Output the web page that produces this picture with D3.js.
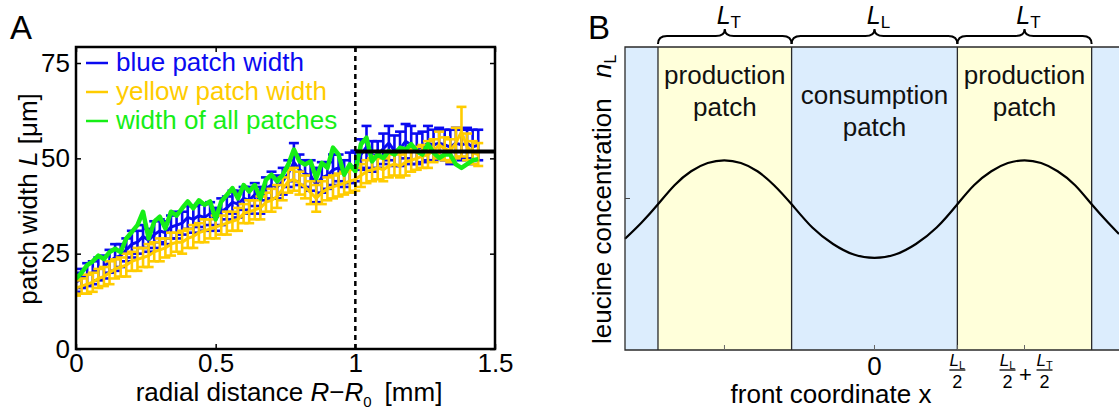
<!DOCTYPE html>
<html>
<head>
<meta charset="utf-8">
<script src="https://cdn.jsdelivr.net/npm/d3@7"></script>
<style>
  body { margin: 0; background: #fff; }
  svg { display: block; font-family: "Liberation Sans", Arial, Helvetica, sans-serif; }
</style>
</head>
<body>
<svg id="chart" width="1119" height="414"></svg>
<script>
// ---- panel A data (step 0.02 mm) ----
const radialDistance = d3.range(73).map((i) => i * 0.02);
const bluePatch = [17.5,18.5,19.5,20,21,21.5,23,24,24.5,26,27.5,28,29.5,28.5,30,31,30.5,32,32.5,33,34.5,34,35,34.5,35.5,34,36,37,38.5,38,39.5,39,40.5,39,42,43,42.5,44,46,49,47,46,45.5,43,45,45.5,47,47.5,46,47.5,48,51,53,50.5,51,52.5,54,52,52.5,54.5,53.5,52.5,53,54,53.5,54,53.5,53,54,53.5,54,53,53.5];
const blueErr = [2.5,2.5,3,3,3,3,3,3.5,3,3,3.5,3,3,3,3.5,3,3,3,3.5,3,3,3.5,3,3.5,3,3,3.5,3,3,3.5,3,3.5,3,3.5,3,3.5,3,3.5,3.5,5,4,3.5,4,4.5,4,3.5,4,3.5,3.5,4,4,4,5.5,4,3.5,4,4.5,4,4.5,4.5,5,4,4,4.5,4,4,4,4.5,4,4,4,4.5,4];
const yellowPatch = [16,16.5,17,17.5,18.5,19,20,21,21.5,22,23,23.5,24,24.5,25.5,26,26.5,27.5,28,28,29,29.5,30.5,31,31.5,32,32.5,33,33.5,34,35.5,36,36.5,37,38.5,39,40,42,44,44.5,43.5,42.5,41,39.5,41,42,42.5,43,43.5,44,44.5,45.5,46.5,47,47.5,47,48,48.5,48,49,49.5,50,50.5,51,52,53.5,52.5,52,54,57,53,51.5,51];
const yellowErr = [2,2,2.5,2.5,2.5,2.5,3,2.5,2.5,3,2.5,3,2.5,3,2.5,3,2.5,3,2.5,3,2.5,3,2.5,3,2.5,3,2.5,3,2.5,3,2.5,3,2.5,3,2.5,3,3,3,3,3,3,3,3,3.5,3,3,3,3,3,3,3,3,3,3,3,3,3,3,3,3.5,3,3,3,3.5,3,3.5,3,3,4,6.5,3.5,3,3];
const allPatches = [18.4,20,22,23,24.5,23.6,25.4,26.3,25.4,29,30.7,32.5,36,29,33.4,34.7,31.6,36,35,36.9,38.7,36.9,39,37.8,38.7,34,38.7,40.4,42.2,39.5,43,41.3,43,39.5,44.4,45.7,44,45.7,48.4,52.3,49.2,48.4,49.2,44.8,48.8,47.5,52.8,51,45.7,48.4,46.6,53.7,55.4,49.2,51,50.1,51.9,51,52.8,52.3,53.7,51.9,51,53.7,51.5,50.1,51,51,48.4,47.5,48.5,49.5,49.8];
const plateauWidth = 51.8;
const plateauStart = 1.0;
const xTicksA = [0, 0.5, 1, 1.5];
const yTicksA = [0, 25, 50, 75];
const legendA = [
  { label: "blue patch width", color: "#0a0af0" },
  { label: "yellow patch width", color: "#ffcc00" },
  { label: "width of all patches", color: "#16ee16" },
];

// ---- panel B data ----
const patchBounds = [-1.505, -1.306, -0.5, 0.5, 1.31, 1.6];
const patchKinds = ["consumption", "production", "consumption", "production", "consumption"];
const braces = [
  { from: -1.306, to: -0.5, sub: "T" },
  { from: -0.5, to: 0.5, sub: "L" },
  { from: 0.5, to: 1.31, sub: "T" },
];
const curveX = [-1.505,-1.406,-1.306,-1.206,-1.106,-1.006,-0.906,-0.806,-0.706,-0.606,-0.5,-0.375,-0.25,-0.125,0,0.125,0.25,0.375,0.5,0.6,0.705,0.805,0.905,1.005,1.105,1.21,1.31,1.41,1.475];
const curveY = [0.367,0.42,0.481,0.544,0.59,0.617,0.626,0.617,0.59,0.544,0.481,0.404,0.35,0.315,0.304,0.315,0.35,0.404,0.481,0.544,0.59,0.617,0.626,0.617,0.59,0.544,0.481,0.42,0.383];
const xTicksB = [-0.905, 0, 0.5, 0.905];

const svg = d3.select("#chart");

// =================== panel A ===================
const A = { left: 76, right: 495, top: 47, bottom: 349 };
const xA = d3.scaleLinear([0, 1.5], [A.left, A.right]);
const yA = d3.scaleLinear([0, 79.2], [A.bottom, A.top]);

const gA = svg.append("g");
gA.append("clipPath").attr("id", "clipA")
  .append("rect").attr("x", A.left).attr("y", A.top)
  .attr("width", A.right - A.left).attr("height", A.bottom - A.top);

const plotA = gA.append("g").attr("clip-path", "url(#clipA)");

function errorSeries(values, errs, color) {
  const g = plotA.append("g").attr("stroke", color).attr("stroke-width", 2.6).attr("fill", "none");
  const pts = values.map((v, i) => ({ x: radialDistance[i], v, e: errs[i] }));
  g.append("path")
    .attr("stroke-width", 3)
    .attr("d", d3.line((d) => xA(d.x), (d) => yA(d.v))(pts));
  const bar = g.selectAll("g.bar").data(pts).join("g").attr("class", "bar");
  bar.append("line")
    .attr("x1", (d) => xA(d.x)).attr("x2", (d) => xA(d.x))
    .attr("y1", (d) => yA(d.v - d.e)).attr("y2", (d) => yA(d.v + d.e));
  [-1, 1].forEach((s) => {
    bar.append("line")
      .attr("x1", (d) => xA(d.x) - 5).attr("x2", (d) => xA(d.x) + 5)
      .attr("y1", (d) => yA(d.v + s * d.e)).attr("y2", (d) => yA(d.v + s * d.e));
  });
}

errorSeries(bluePatch, blueErr, legendA[0].color);
errorSeries(yellowPatch, yellowErr, legendA[1].color);

plotA.append("path")
  .attr("fill", "none")
  .attr("stroke", legendA[2].color)
  .attr("stroke-width", 4.5)
  .attr("stroke-linejoin", "round")
  .attr("d", d3.line((d, i) => xA(radialDistance[i]), (d) => yA(d))(allPatches));

// dashed marker and plateau line
gA.append("line")
  .attr("x1", xA(plateauStart)).attr("x2", xA(plateauStart))
  .attr("y1", A.top).attr("y2", A.bottom)
  .attr("stroke", "#000").attr("stroke-width", 2.5).attr("stroke-dasharray", "5,4");
gA.append("line")
  .attr("x1", xA(plateauStart)).attr("x2", A.right)
  .attr("y1", yA(plateauWidth)).attr("y2", yA(plateauWidth))
  .attr("stroke", "#000").attr("stroke-width", 4);

// axes
const axisFont = (g) => g.attr("font-size", 26).attr("font-family", null)
  .call((g) => g.select(".domain").remove())
  .call((g) => g.selectAll(".tick line").attr("stroke", "#000").attr("stroke-width", 1.5))
  .call((g) => g.selectAll(".tick text").attr("fill", "#000"));

gA.append("g").attr("transform", `translate(0,${A.bottom})`)
  .call(d3.axisBottom(xA).tickValues(xTicksA).tickFormat(d3.format("")).tickSizeInner(-5).tickSizeOuter(0).tickPadding(5))
  .call(axisFont);
gA.append("g").attr("transform", `translate(${A.left},0)`)
  .call(d3.axisLeft(yA).tickValues(yTicksA).tickSizeInner(-5).tickSizeOuter(0).tickPadding(6))
  .call(axisFont);
gA.append("g").attr("transform", `translate(0,${A.top})`)
  .call(d3.axisTop(xA).tickValues(xTicksA).tickFormat("").tickSizeInner(-5).tickSizeOuter(0))
  .call(axisFont);
gA.append("g").attr("transform", `translate(${A.right},0)`)
  .call(d3.axisRight(yA).tickValues(yTicksA).tickFormat("").tickSizeInner(-5).tickSizeOuter(0))
  .call(axisFont);

gA.append("rect")
  .attr("x", A.left).attr("y", A.top)
  .attr("width", A.right - A.left).attr("height", A.bottom - A.top)
  .attr("fill", "none").attr("stroke", "#000").attr("stroke-width", 2.5);

// legend
const leg = gA.append("g").selectAll("g").data(legendA).join("g")
  .attr("transform", (d, i) => `translate(0,${63 + i * 29})`);
leg.append("line").attr("x1", 86).attr("x2", 108)
  .attr("stroke", (d) => d.color).attr("stroke-width", 2.5);
leg.append("text").attr("x", 116).attr("y", 8)
  .attr("font-size", 26).attr("fill", (d) => d.color).text((d) => d.label);

// axis titles
gA.append("text")
  .attr("x", 289).attr("y", 401)
  .attr("text-anchor", "middle").attr("font-size", 26)
  .call((t) => {
    t.append("tspan").text("radial distance ");
    t.append("tspan").attr("font-style", "italic").text("R");
    t.append("tspan").text("\u2212");
    t.append("tspan").attr("font-style", "italic").text("R");
    t.append("tspan").attr("font-size", 15).attr("dy", 6).text("0");
    t.append("tspan").attr("dy", -6).text("\u2002[mm]");
  });

gA.append("text")
  .attr("transform", `translate(37,199) rotate(-90)`)
  .attr("text-anchor", "middle").attr("font-size", 26)
  .call((t) => {
    t.append("tspan").text("patch width ");
    t.append("tspan").attr("font-style", "italic").text("L");
    t.append("tspan").text(" [\u03bcm]");
  });

svg.append("text").attr("x", 10).attr("y", 39).attr("font-size", 33).text("A");

// =================== panel B ===================
const B = { left: 625, right: 1119, top: 47, bottom: 350 };
const xB = d3.scaleLinear([-1.505, 1.475], [B.left, B.right]);
const yB = d3.scaleLinear([0, 1], [B.bottom, B.top]);
const patchFill = { consumption: "#dcedfd", production: "#ffffda" };

const gB = svg.append("g");
const patches = patchKinds.map((k, i) => ({ kind: k, a: patchBounds[i], b: patchBounds[i + 1] }));

gB.selectAll("rect.patch").data(patches).join("rect").attr("class", "patch")
  .attr("x", (d) => xB(d.a))
  .attr("width", (d) => Math.min(xB(d.b), B.right) - xB(d.a))
  .attr("y", B.top).attr("height", B.bottom - B.top)
  .attr("fill", (d) => patchFill[d.kind]);

// patch boundaries
gB.selectAll("line.bound").data(patchBounds.slice(1, -1)).join("line").attr("class", "bound")
  .attr("x1", (d) => xB(d)).attr("x2", (d) => xB(d))
  .attr("y1", B.top).attr("y2", B.bottom)
  .attr("stroke", "#2a2a2a").attr("stroke-width", 1.3);

// patch labels
gB.selectAll("text.plabel").data(patches.slice(1, 4)).join("text").attr("class", "plabel")
  .attr("text-anchor", "middle").attr("font-size", 26).attr("fill", "#111")
  .each(function (d) {
    const t = d3.select(this);
    const cx = xB((d.a + d.b) / 2);
    const y0 = d.kind === "production" ? 84 : 104;
    t.append("tspan").attr("x", cx).attr("y", y0).text(d.kind);
    t.append("tspan").attr("x", cx).attr("y", y0 + 32).text("patch");
  });

// concentration curve
gB.append("path")
  .attr("fill", "none").attr("stroke", "#000").attr("stroke-width", 2.2)
  .attr("d", d3.line((d, i) => xB(curveX[i]), (d) => yB(d)).curve(d3.curveNatural)(curveY));

// frame
gB.append("path")
  .attr("fill", "none").attr("stroke", "#2a2a2a").attr("stroke-width", 1.3)
  .attr("d", `M${B.right},${B.top}H${B.left}V${B.bottom}H${B.right}`);

// ticks
gB.append("line").attr("x1", B.left).attr("x2", B.left + 5)
  .attr("y1", yB(0.5)).attr("y2", yB(0.5)).attr("stroke", "#444");
gB.selectAll("line.xt").data(xTicksB).join("line").attr("class", "xt")
  .attr("x1", (d) => xB(d)).attr("x2", (d) => xB(d))
  .attr("y1", B.bottom).attr("y2", B.bottom - 5).attr("stroke", "#666");

// braces
function bracePath(x1, x2, yb) {
  const m = (x1 + x2) / 2, r = 9;
  return `M${x1},${yb + 8} Q${x1},${yb} ${x1 + r},${yb} L${m - r},${yb} Q${m},${yb} ${m},${yb - 7}` +
    ` Q${m},${yb} ${m + r},${yb} L${x2 - r},${yb} Q${x2},${yb} ${x2},${yb + 8}`;
}
gB.selectAll("path.brace").data(braces).join("path").attr("class", "brace")
  .attr("fill", "none").attr("stroke", "#000").attr("stroke-width", 2)
  .attr("d", (d) => bracePath(xB(d.from), xB(d.to), 36));

gB.selectAll("text.bl").data(braces).join("text").attr("class", "bl")
  .attr("x", (d) => xB((d.from + d.to) / 2) + 4).attr("y", 24)
  .attr("text-anchor", "middle").attr("font-size", 25)
  .each(function (d) {
    const t = d3.select(this);
    t.append("tspan").attr("font-style", "italic").text("L");
    t.append("tspan").attr("font-size", 17).attr("dy", 4).text(d.sub);
  });

// tick labels
gB.append("text").attr("x", xB(0)).attr("y", 375)
  .attr("text-anchor", "middle").attr("font-size", 26).text("0");

function fraction(g, cx, sub) {
  g.append("text").attr("x", cx).attr("y", 366).attr("text-anchor", "middle").attr("font-size", 17)
    .call((t) => {
      t.append("tspan").attr("font-style", "italic").text("L");
      t.append("tspan").attr("font-size", 11).attr("dy", 3).text(sub);
    });
  g.append("line").attr("x1", cx - 8).attr("x2", cx + 8).attr("y1", 370).attr("y2", 370)
    .attr("stroke", "#000").attr("stroke-width", 1.3);
  g.append("text").attr("x", cx).attr("y", 388).attr("text-anchor", "middle").attr("font-size", 18).text("2");
}
fraction(gB, xB(0.5), "L");
fraction(gB, xB(0.905) - 17, "L");
gB.append("text").attr("x", xB(0.905) + 1).attr("y", 382).attr("text-anchor", "middle").attr("font-size", 22).text("+");
fraction(gB, xB(0.905) + 20, "T");

// axis titles
gB.append("text").attr("x", 831).attr("y", 403)
  .attr("text-anchor", "middle").attr("font-size", 26).text("front coordinate x");

gB.append("text")
  .attr("transform", `translate(611,${B.bottom - 6}) rotate(-90)`)
  .attr("font-size", 26)
  .call((t) => {
    t.append("tspan").text("leucine concentration\u2002 ");
    t.append("tspan").attr("font-style", "italic").text("n");
    t.append("tspan").attr("font-size", 16).attr("dy", 5).text("L");
  });

svg.append("text").attr("x", 588).attr("y", 39).attr("font-size", 33).text("B");
</script>
</body>
</html>
